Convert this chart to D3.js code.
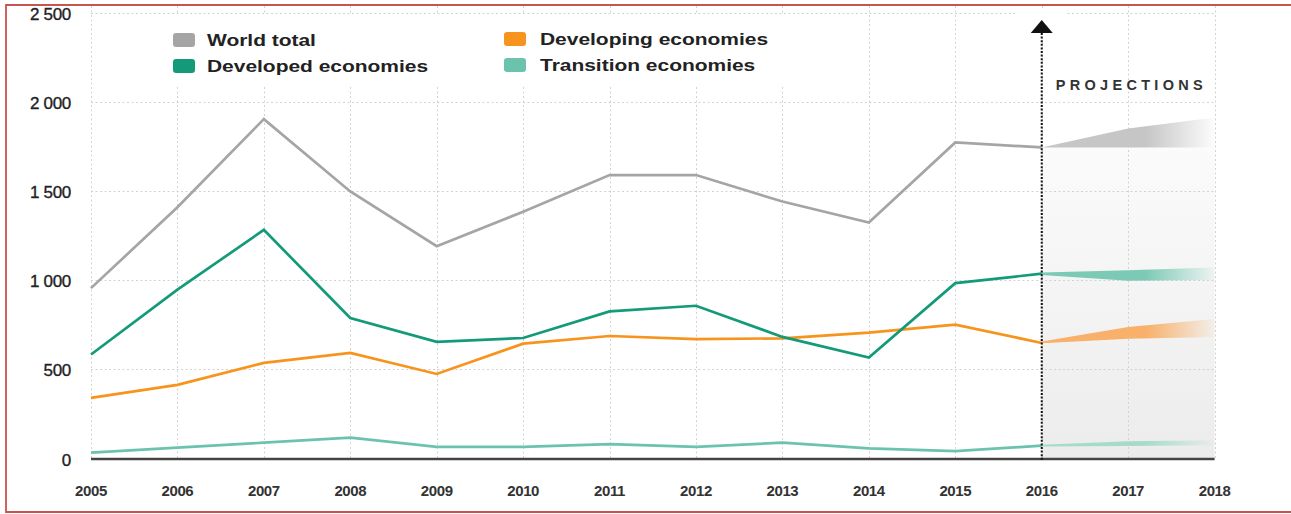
<!DOCTYPE html>
<html>
<head>
<meta charset="utf-8">
<script src="https://cdn.jsdelivr.net/npm/d3@7"></script>
<style>
  html, body { margin: 0; padding: 0; background: #fff; }
  svg { display: block; font-family: "Liberation Sans", Arial, sans-serif; }
</style>
</head>
<body>
<svg id="chart" width="1291" height="514"></svg>
<script>
// Annual values by economy group, 2005-2016
const years = [2005, 2006, 2007, 2008, 2009, 2010, 2011, 2012, 2013, 2014, 2015, 2016];
const worldTotal = [954, 1408, 1903, 1497, 1189, 1383, 1589, 1589, 1440, 1322, 1772, 1744];
const developed  = [581, 945, 1281, 786, 652, 674, 823, 855, 680, 564, 982, 1035];
const developing = [338, 411, 534, 590, 472, 642, 685, 667, 672, 704, 749, 646];
const transition = [30, 58, 86, 114, 62, 62, 78, 63, 86, 54, 39, 69];

// Projection ranges, 2016-2018
const projYears = [2016, 2017, 2018];
const worldLow  = [1744, 1744, 1744];
const worldHigh = [1744, 1850, 1912];
const devdLow   = [1028, 995, 1000];
const devdHigh  = [1042, 1055, 1070];
const devgLow   = [644, 670, 680];
const devgHigh  = [654, 735, 780];
const transLow  = [64, 67, 72];
const transHigh = [74, 94, 100];

const xTicks = [2005, 2006, 2007, 2008, 2009, 2010, 2011, 2012, 2013, 2014, 2015, 2016, 2017, 2018];
const yTicks = [0, 500, 1000, 1500, 2000, 2500];
const yTickLabels = ["0", "500", "1 000", "1 500", "2 000", "2 500"];

const seriesNames = ["World total", "Developed economies", "Developing economies", "Transition economies"];
const seriesColors = ["#a5a5a5", "#139a79", "#f7941d", "#6cc3ad"];
const bandColors = ["#c6c6c6", "#7ccab5", "#f8b06a", "#a6dbcc"];

const svg = d3.select("#chart");
const x = d3.scaleLinear().domain([2005, 2018]).range([91, 1214.6]);
const y = d3.scaleLinear().domain([0, 2500]).range([458, 12.8]);
const splitYear = 2016;

const defs = svg.append("defs");

// grey shading of the projection period
const bgGrad = defs.append("linearGradient").attr("id", "projBg")
  .attr("x1", 0).attr("y1", 0).attr("x2", 0).attr("y2", 1);
bgGrad.append("stop").attr("offset", 0).attr("stop-color", "#fbfbfb");
bgGrad.append("stop").attr("offset", 1).attr("stop-color", "#ececec");

svg.append("rect")
  .attr("x", x(splitYear)).attr("width", x(2018) - x(splitYear))
  .attr("y", y(worldTotal[worldTotal.length - 1])).attr("height", y(0) - y(worldTotal[worldTotal.length - 1]))
  .attr("fill", "url(#projBg)");

// gridlines
const grid = svg.append("g").attr("stroke", "#d2d2d2").attr("stroke-width", 1)
  .attr("stroke-dasharray", "2,2.5").attr("fill", "none");
grid.selectAll("line.h").data(yTicks.filter(d => d > 0)).join("line")
  .attr("class", "h")
  .attr("x1", x(2005)).attr("x2", x(2018))
  .attr("y1", d => Math.round(y(d)) + 0.5).attr("y2", d => Math.round(y(d)) + 0.5);
grid.selectAll("line.v").data(xTicks).join("line")
  .attr("class", "v")
  .attr("x1", d => Math.round(x(d)) + 0.5).attr("x2", d => Math.round(x(d)) + 0.5)
  .attr("y1", 6).attr("y2", y(0));

// white boxes behind the legend and the arrow head
svg.append("rect").attr("x", 100).attr("y", 15).attr("width", 700).attr("height", 72).attr("fill", "#fff");
svg.append("rect").attr("x", 1015).attr("y", 8).attr("width", 50).attr("height", 22).attr("fill", "#fff");

// projection bands fading out towards 2018
const bands = [
  [worldLow, worldHigh],
  [devdLow, devdHigh],
  [devgLow, devgHigh],
  [transLow, transHigh]
];
bands.forEach((b, i) => {
  const g = defs.append("linearGradient").attr("id", "band" + i)
    .attr("gradientUnits", "userSpaceOnUse")
    .attr("x1", x(2016)).attr("x2", x(2018)).attr("y1", 0).attr("y2", 0);
  g.append("stop").attr("offset", 0).attr("stop-color", bandColors[i]).attr("stop-opacity", 1);
  g.append("stop").attr("offset", 0.6).attr("stop-color", bandColors[i]).attr("stop-opacity", 1);
  g.append("stop").attr("offset", 1).attr("stop-color", bandColors[i]).attr("stop-opacity", 0.05);
});
const bandArea = d3.area()
  .x(d => x(d.year)).y0(d => y(d.low)).y1(d => y(d.high));
bands.forEach((b, i) => {
  const pts = projYears.map((yr, j) => ({ year: yr, low: b[0][j], high: b[1][j] }));
  svg.append("path").datum(pts)
    .attr("d", bandArea)
    .attr("fill", "url(#band" + i + ")");
});

// historical lines
const line = d3.line().x(d => x(d.year)).y(d => y(d.value));
const allSeries = [worldTotal, developed, developing, transition];
[3, 2, 1, 0].forEach(i => {
  const pts = years.map((yr, j) => ({ year: yr, value: allSeries[i][j] }));
  svg.append("path").datum(pts)
    .attr("d", line)
    .attr("fill", "none")
    .attr("stroke", seriesColors[i])
    .attr("stroke-width", 2.7)
    .attr("stroke-linejoin", "miter");
});

// x axis baseline
svg.append("line")
  .attr("x1", x(2005)).attr("x2", x(2018))
  .attr("y1", y(0) + 1).attr("y2", y(0) + 1)
  .attr("stroke", "#444").attr("stroke-width", 2.5);

// dotted divider with arrow marking the start of projections
const xs = x(splitYear);
svg.append("line")
  .attr("x1", xs).attr("x2", xs)
  .attr("y1", 33).attr("y2", y(0) + 2)
  .attr("stroke", "#111").attr("stroke-width", 2)
  .attr("stroke-dasharray", "2,1.6");
svg.append("path")
  .attr("d", `M${xs},20 L${xs + 11},33 L${xs - 11},33 Z`)
  .attr("fill", "#111");

svg.append("text")
  .attr("x", xs + 14).attr("y", 90)
  .attr("font-size", 14.5).attr("font-weight", "bold")
  .attr("letter-spacing", "4.3px")
  .attr("fill", "#333")
  .text("PROJECTIONS");

// x axis labels
svg.append("g").selectAll("text").data(xTicks).join("text")
  .attr("x", d => x(d)).attr("y", 496)
  .attr("text-anchor", "middle")
  .attr("font-size", 15).attr("font-weight", "bold")
  .attr("letter-spacing", "-0.4px")
  .attr("fill", "#333")
  .text(d => d);

// y axis labels
svg.append("g").selectAll("text").data(yTicks).join("text")
  .attr("x", 71).attr("y", d => y(d) + 7.5)
  .attr("text-anchor", "end")
  .attr("font-size", 17)
  .attr("letter-spacing", "-0.3px")
  .attr("fill", "#222")
  .attr("stroke", "#222").attr("stroke-width", 0.35)
  .text((d, i) => yTickLabels[i]);

// legend
const legendPos = [
  { sx: 173, sy: 33, tx: 207, ty: 46 },
  { sx: 173, sy: 59, tx: 207, ty: 72 },
  { sx: 504, sy: 32, tx: 540, ty: 45 },
  { sx: 504, sy: 58, tx: 540, ty: 71 }
];
const legend = svg.append("g");
seriesNames.forEach((name, i) => {
  const p = legendPos[i];
  legend.append("rect")
    .attr("x", p.sx).attr("y", p.sy).attr("width", 22).attr("height", 14)
    .attr("rx", 3).attr("fill", seriesColors[i]);
  legend.append("text")
    .attr("transform", `translate(${p.tx},${p.ty}) scale(1.31,1)`)
    .attr("font-size", 16).attr("font-weight", "bold")
    .attr("fill", "#222")
    .text(name);
});

// outer frame
svg.append("path")
  .attr("d", "M1300,5 L6,5 L6,512 L1300,512")
  .attr("fill", "none")
  .attr("stroke", "#c9534f").attr("stroke-width", 1.8);
</script>
</body>
</html>
